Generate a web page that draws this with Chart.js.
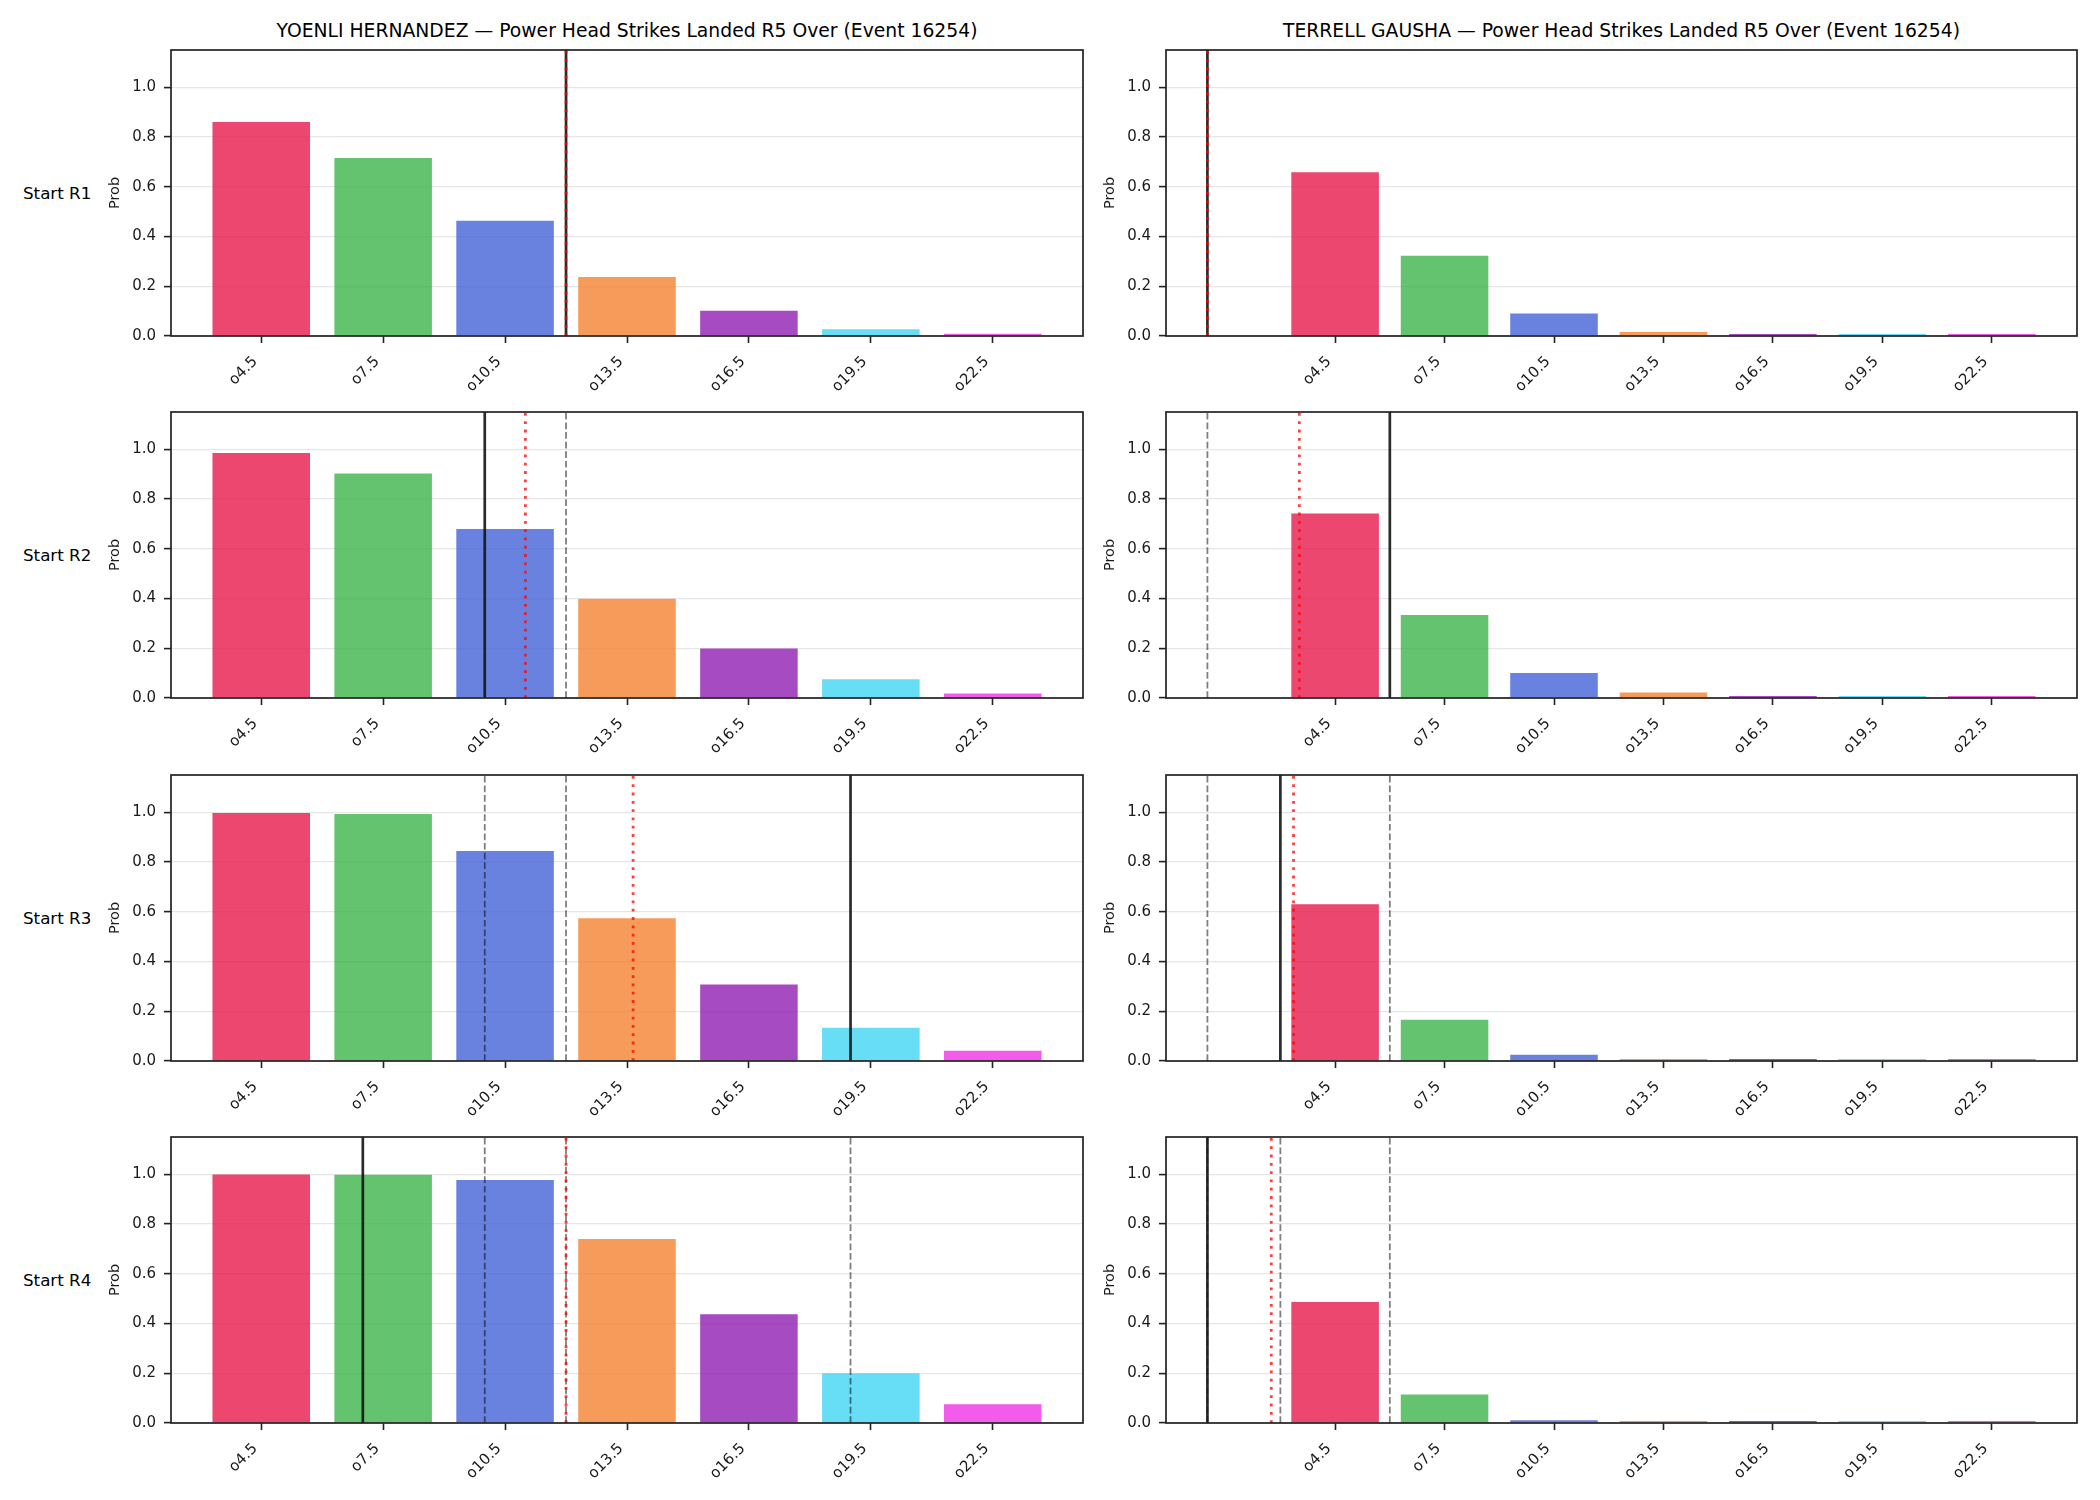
<!DOCTYPE html>
<html>
<head>
<meta charset="utf-8">
<script src="https://cdn.jsdelivr.net/npm/chart.js@4.4.1/dist/chart.umd.min.js"></script>
<style>
html,body{margin:0;padding:0;background:#fff;}
#wrap{position:relative;width:2100px;height:1500px;overflow:hidden;font-family:"DejaVu Sans",sans-serif;color:#000;background:#fff;}
canvas.cv{position:absolute;}
.ttl{position:absolute;font-size:18.75px;line-height:1;white-space:nowrap;text-align:center;}
.row{position:absolute;font-size:16.7px;line-height:1;white-space:nowrap;}
</style>
</head>
<body>
<div id="wrap"></div>
<script>
// ---------------- data ----------------
const fighters = ["YOENLI HERNANDEZ", "TERRELL GAUSHA"];
const titleSuffix = " — Power Head Strikes Landed R5 Over (Event 16254)";
const rowLabels = ["Start R1", "Start R2", "Start R3", "Start R4"];
const thresholds = [4.5, 7.5, 10.5, 13.5, 16.5, 19.5, 22.5];
const tickLabels = ["o4.5", "o7.5", "o10.5", "o13.5", "o16.5", "o19.5", "o22.5"];
const yTicks = [0.0, 0.2, 0.4, 0.6, 0.8, 1.0];

const hernandezR1 = [0.860, 0.716, 0.463, 0.237, 0.102, 0.027, 0.009];
const hernandezR2 = [0.985, 0.903, 0.680, 0.399, 0.199, 0.075, 0.018];
const hernandezR3 = [0.997, 0.993, 0.844, 0.574, 0.308, 0.134, 0.041];
const hernandezR4 = [0.999, 0.998, 0.977, 0.740, 0.437, 0.200, 0.075];

const gaushaR1 = [0.658, 0.323, 0.090, 0.016, 0.005, 0.004, 0.004];
const gaushaR2 = [0.742, 0.334, 0.101, 0.022, 0.005, 0.004, 0.004];
const gaushaR3 = [0.630, 0.166, 0.025, 0.006, 0.005, 0.004, 0.004];
const gaushaR4 = [0.487, 0.115, 0.011, 0.004, 0.004, 0.003, 0.003];

// solid black = value at start of round, red dotted = projection,
// grey dashed = values at start of earlier rounds
const hernandezActual = [12, 10, 19, 7];
const hernandezProj = [12, 11.0, 13.65, 12.0];
const gaushaActual = [1, 6, 3, 1];
const gaushaProj = [1, 3.52, 3.36, 2.75];

// ---------------- styles / layout ----------------
const barColors = ["rgba(230,25,75,0.8)", "rgba(60,180,75,0.8)", "rgba(67,99,216,0.8)",
  "rgba(245,130,49,0.8)", "rgba(145,30,180,0.8)", "rgba(66,212,244,0.8)", "rgba(240,50,230,0.8)"];
const AX_LEFT = [171, 1166];
const AX_W = [912, 911];
const AX_TOP = [50, 412, 775, 1137];
const AX_H = 286;
const Y_AXIS_W = 68, X_AXIS_H = 74, PAD_T = 10, PAD_R = 6;
const FONT = "'DejaVu Sans', sans-serif";
const INK = "#1a1a1a";
const TICK_FS = 15;

Chart.defaults.font.family = FONT;
Chart.defaults.color = INK;

const probs = [
  [hernandezR1, hernandezR2, hernandezR3, hernandezR4],
  [gaushaR1, gaushaR2, gaushaR3, gaushaR4]
];
const actuals = [hernandezActual, gaushaActual];
const projs = [hernandezProj, gaushaProj];

const wrap = document.getElementById('wrap');

const spinePlugin = {
  id: 'spines',
  afterDraw(chart) {
    const {ctx, chartArea: a} = chart;
    ctx.save();
    ctx.strokeStyle = '#222';
    ctx.lineWidth = 1.7;
    ctx.strokeRect(a.left, a.top, a.right - a.left, a.bottom - a.top);
    ctx.restore();
  }
};

function vline(x, color, width, dash, order) {
  return {
    type: 'line',
    data: [{x: x, y: 0}, {x: x, y: 1.15}],
    borderColor: color,
    borderWidth: width,
    borderDash: dash,
    pointRadius: 0,
    pointHoverRadius: 0,
    fill: false,
    order: order,
    borderCapStyle: 'butt'
  };
}

// titles
fighters.forEach((f, c) => {
  const d = document.createElement('div');
  d.className = 'ttl';
  d.style.left = AX_LEFT[c] + 'px';
  d.style.width = AX_W[c] + 'px';
  d.style.top = '22px';
  d.textContent = f + titleSuffix;
  wrap.appendChild(d);
});

// row labels
rowLabels.forEach((t, r) => {
  const d = document.createElement('div');
  d.className = 'row';
  d.style.left = '23px';
  d.style.top = (AX_TOP[r] + AX_H / 2 - 8.4) + 'px';
  d.textContent = t;
  wrap.appendChild(d);
});

for (let c = 0; c < 2; c++) {
  for (let r = 0; r < 4; r++) {
    const cv = document.createElement('canvas');
    cv.className = 'cv';
    const W = Y_AXIS_W + AX_W[c] + PAD_R;
    const H = PAD_T + AX_H + X_AXIS_H;
    cv.width = W; cv.height = H;
    cv.style.width = W + 'px'; cv.style.height = H + 'px';
    cv.style.left = (AX_LEFT[c] - Y_AXIS_W) + 'px';
    cv.style.top = (AX_TOP[r] - PAD_T) + 'px';
    wrap.appendChild(cv);

    const p = probs[c][r];
    const greys = actuals[c].slice(0, r);
    const black = actuals[c][r];
    const red = projs[c][r];
    const allV = greys.concat([black, red]);
    const lo = Math.min(thresholds[0] - 1.2, ...allV);
    const hi = Math.max(thresholds[thresholds.length - 1] + 1.2, ...allV);
    const m = 0.05 * (hi - lo);

    const datasets = [{
      type: 'bar',
      data: thresholds.map((t, i) => ({x: t, y: p[i]})),
      backgroundColor: barColors,
      borderWidth: 0,
      categoryPercentage: 1.0,
      barPercentage: 0.8,
      minBarLength: 2,
      order: 10
    }];
    greys.forEach(g => datasets.push(vline(g, 'rgba(0,0,0,0.5)', 1.8, [6.7, 2.9], 3)));
    datasets.push(vline(black, 'rgba(20,20,20,0.9)', 2.7, [], 2));
    datasets.push(vline(red, 'rgba(255,0,0,0.75)', 2.8, [2.8, 5.5], 1));

    new Chart(cv, {
      type: 'bar',
      data: {datasets},
      plugins: [spinePlugin],
      options: {
        responsive: false,
        animation: false,
        devicePixelRatio: 1,
        layout: {padding: {left: 0, top: PAD_T, right: PAD_R, bottom: 0}},
        plugins: {legend: {display: false}, tooltip: {enabled: false}, title: {display: false}},
        scales: {
          x: {
            type: 'linear',
            offset: false,
            min: lo - m,
            max: hi + m,
            border: {display: false},
            grid: {display: true, drawOnChartArea: false, drawTicks: true, tickLength: 7,
                   tickColor: '#222', tickWidth: 1.6, offset: false},
            ticks: {autoSkip: false, minRotation: 45, maxRotation: 45, padding: 10, labelOffset: -6,
                    font: {size: TICK_FS, family: FONT}, color: INK,
                    callback: (v, i) => tickLabels[i]},
            afterBuildTicks: s => { s.ticks = thresholds.map(v => ({value: v})); },
            afterFit: s => { s.height = X_AXIS_H; s.paddingLeft = 0; s.paddingRight = 0; }
          },
          y: {
            type: 'linear',
            min: 0,
            max: 1.15,
            border: {display: false},
            grid: {color: '#e6e6e6', lineWidth: 1.2, drawTicks: true, tickLength: 7,
                   tickColor: '#222', tickWidth: 1.6},
            ticks: {padding: 8, font: {size: TICK_FS, family: FONT}, color: INK,
                    callback: v => Number(v).toFixed(1)},
            afterBuildTicks: s => { s.ticks = yTicks.map(v => ({value: v})); },
            afterFit: s => { s.width = Y_AXIS_W; s.paddingTop = 0; s.paddingBottom = 0; },
            title: {display: true, text: 'Prob', font: {size: 14.5, family: FONT}, color: INK,
                    padding: {top: 4, bottom: 0}}
          }
        }
      }
    });
  }
}
</script>
</body>
</html>
